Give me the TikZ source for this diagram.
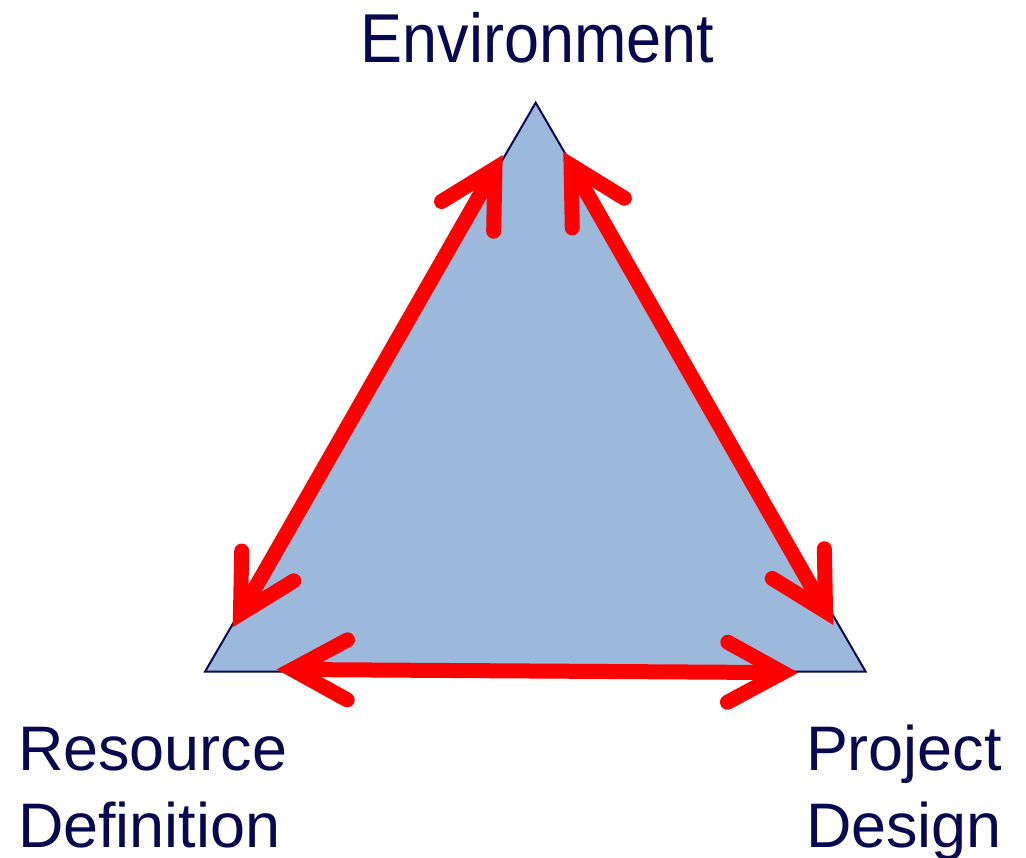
\documentclass[tikz,border=0pt]{standalone}
\usepackage{fontspec}
\setmainfont{Liberation Sans}
\usetikzlibrary{arrows.meta}
\definecolor{labelnavy}{RGB}{8,8,80}
\definecolor{trifill}{RGB}{156,184,219}
\begin{document}
\begin{tikzpicture}[every node/.style={inner sep=0pt, outer sep=0pt, text=labelnavy, font=\fontsize{35.8pt}{43.8pt}\selectfont}, >={Straight Barb[line cap=round, line join=miter, length=1.1cm, width=1.2cm]}, link/.style={<->, draw=red, line width=0.3cm}]
	\useasboundingbox (0, 0) rectangle (20.52, 17.14);
	
	% Corners
	\coordinate (top) at (10.714, 15.086);
	\coordinate (left) at (4.1, 3.706);
	\coordinate (right) at (17.314, 3.706);
	\draw[draw=labelnavy, fill=trifill, line width=0.04cm] (top) -- (left) -- (right) -- cycle;
	
	% Arrow ends
	\coordinate (envL) at (10.054, 14.04);
	\coordinate (resT) at (4.654, 4.594);
	\coordinate (envR) at (11.266, 14.106);
	\coordinate (proT) at (16.666, 4.64);
	\coordinate (resR) at (5.534, 3.752);
	\coordinate (proL) at (15.966, 3.686);
	
	\draw[link] (envL) -- (resT);
	\draw[link] (envR) -- (proT);
	\draw[link] (resR) -- (proL);
	
	% Labels
	\node[anchor=base, yscale=1.1, transform shape] (env) at (10.75, 15.88) {Environment};
	\node[anchor=base west, align=left] (res) at (0.36, 0.2) {Resource\\Definition};
	\node[anchor=base west, align=left] (pro) at (16.12, 0.2) {Project\\Design};
	
\end{tikzpicture}
\end{document}
